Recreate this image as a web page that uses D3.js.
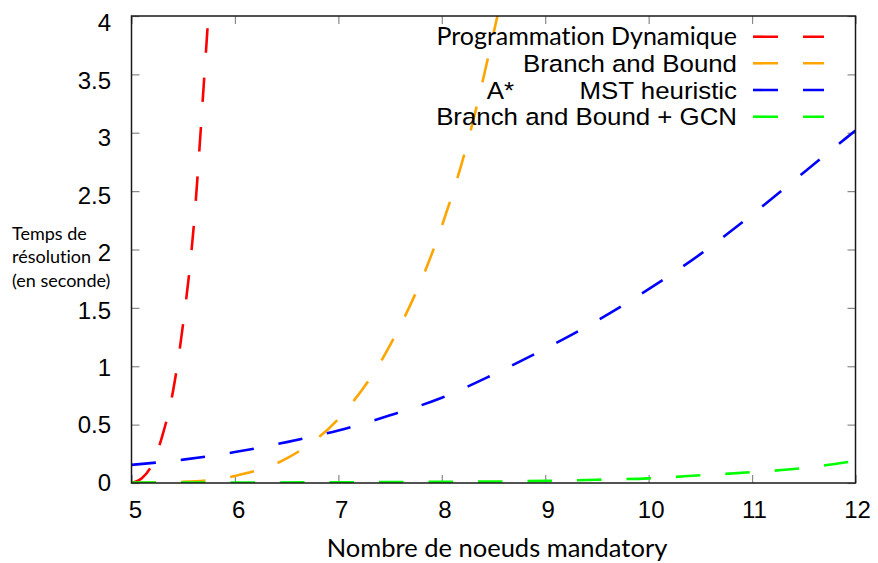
<!DOCTYPE html>
<html>
<head>
<meta charset="utf-8">
<script src="https://cdn.jsdelivr.net/npm/d3@7"></script>
<style>
body { margin: 0; background: #fff; }
.tick text { fill: #000; }
text { font-variant-ligatures: none; font-feature-settings: "liga" 0; }
</style>
</head>
<body>
<svg id="chart" width="878" height="563"></svg>
<script>
// Values
var dpX = [5, 5.1, 5.2, 5.3, 5.4, 5.5, 5.6, 5.7, 5.75];
var dpY = [0, 0.04, 0.16, 0.41, 0.78, 1.37, 2.18, 3.43, 4.1];

var bbX = [5, 5.5, 6, 6.5, 7, 7.5, 8, 8.25, 8.5, 8.6];
var bbY = [0, 0.01, 0.06, 0.21, 0.55, 1.18, 2.2, 2.92, 3.85, 4.25];

var astarX = [5, 5.5, 6, 6.5, 7, 7.5, 8, 8.5, 9, 9.5, 10, 10.5, 11, 11.5, 12];
var astarY = [0.155, 0.2, 0.265, 0.35, 0.45, 0.58, 0.73, 0.93, 1.15, 1.39, 1.66, 1.96, 2.3, 2.66, 3.02];

var gcnX = [5, 6, 7, 8, 9, 9.5, 10, 10.5, 11, 11.5, 12];
var gcnY = [0.003, 0.004, 0.006, 0.01, 0.018, 0.028, 0.04, 0.066, 0.093, 0.128, 0.19];

var seriesNames = ["Programmation Dynamique", "Branch and Bound", "A*\tMST heuristic", "Branch and Bound + GCN"];
var seriesColors = ["#ff0000", "#ffa500", "#0000ff", "#00ff00"];

var xTicks = [5, 6, 7, 8, 9, 10, 11, 12];
var yTicks = [0, 0.5, 1, 1.5, 2, 2.5, 3, 3.5, 4];

var xTitle = "Nombre de noeuds mandatory";
var yTitle = ["Temps de", "résolution", "(en seconde)"];

// Plot box
var plotLeft = 131.5, plotRight = 855.5, plotTop = 16, plotBottom = 483;

var svg = d3.select('#chart');

var x = d3.scaleLinear().domain([5, 12]).range([plotLeft, plotRight]);
var y = d3.scaleLinear().domain([0, 4]).range([plotBottom, plotTop]);

// tick labels sit a little off the ticks in the original
var xLab = d3.scaleLinear().domain([5, 12]).range([135, 857]);
var yLab = d3.scaleLinear().domain([0, 4]).range([482, 22.5]);

var series = [
    { xs: dpX, ys: dpY },
    { xs: bbX, ys: bbY },
    { xs: astarX, ys: astarY },
    { xs: gcnX, ys: gcnY }
];

// Inside ticks on all four sides
function tickStyle(g) {
    g.select('.domain').remove();
    g.selectAll('.tick line').attr('stroke', '#8a8a8a').attr('stroke-width', 1.2);
}

svg.append('g')
    .attr('transform', 'translate(0,' + plotBottom + ')')
    .call(d3.axisBottom(x).tickValues(xTicks).tickSize(-8).tickFormat(''))
    .call(tickStyle);
svg.append('g')
    .attr('transform', 'translate(0,' + plotTop + ')')
    .call(d3.axisTop(x).tickValues(xTicks).tickSize(-8).tickFormat(''))
    .call(tickStyle);
svg.append('g')
    .attr('transform', 'translate(' + plotLeft + ',0)')
    .call(d3.axisLeft(y).tickValues(yTicks).tickSize(-8).tickFormat(''))
    .call(tickStyle);
svg.append('g')
    .attr('transform', 'translate(' + plotRight + ',0)')
    .call(d3.axisRight(y).tickValues(yTicks).tickSize(-8).tickFormat(''))
    .call(tickStyle);

// Tick labels
var xLabels = svg.append('g')
    .attr('transform', 'translate(0,' + 510 + ')')
    .call(d3.axisBottom(xLab).tickValues(xTicks).tickSize(0).tickPadding(0).tickFormat(d3.format('')));
xLabels.select('.domain').remove();
xLabels.selectAll('text')
    .attr('dy', '0.35em')
    .style('font-family', '"Liberation Sans", Arial, sans-serif')
    .style('font-size', '24px');

var yLabels = svg.append('g')
    .attr('transform', 'translate(' + 111 + ',0)')
    .call(d3.axisLeft(yLab).tickValues(yTicks).tickSize(0).tickPadding(0).tickFormat(d3.format('')));
yLabels.select('.domain').remove();
yLabels.selectAll('text')
    .attr('dy', '0.35em')
    .style('font-family', '"Liberation Sans", Arial, sans-serif')
    .style('font-size', '24px');

// Curves
svg.append('clipPath')
    .attr('id', 'plotClip')
    .append('rect')
    .attr('x', plotLeft)
    .attr('y', plotTop)
    .attr('width', plotRight - plotLeft)
    .attr('height', plotBottom - plotTop);

var line = d3.line()
    .x(function(d) { return x(d[0]); })
    .y(function(d) { return y(d[1]); })
    .curve(d3.curveMonotoneX);

var curves = svg.append('g').attr('clip-path', 'url(#plotClip)');

series.forEach(function(s, i) {
    var pts = s.xs.map(function(v, j) { return [v, s.ys[j]]; });
    curves.append('path')
        .datum(pts)
        .attr('d', line)
        .attr('fill', 'none')
        .attr('stroke', seriesColors[i])
        .attr('stroke-width', 2.6)
        .attr('stroke-dasharray', '24.5,25');
});

// Frame
svg.append('rect')
    .attr('x', plotLeft)
    .attr('y', plotTop)
    .attr('width', plotRight - plotLeft)
    .attr('height', plotBottom - plotTop)
    .attr('fill', 'none')
    .attr('stroke', '#1a1a1a')
    .attr('stroke-width', 1.5);

// Legend (gnuplot text in the original is stretched a bit wide)
var legend = svg.append('g');
var rowY = [36.7, 63.3, 90, 116.7];

function legendText(px, py, str, calibri) {
    legend.append('text')
        .attr('transform', 'translate(' + px + ',' + py + ')' + (calibri ? '' : ' scale(1.1,1)'))
        .attr('text-anchor', 'end')
        .style('font-family', calibri ? 'Lato, sans-serif' : '"Liberation Sans", Arial, sans-serif')
        .style('font-size', calibri ? '25px' : '23.5px')
        .text(str);
}

seriesNames.forEach(function(name, i) {
    var parts = name.split('\t');

    legendText(737, rowY[i] + 8.5, parts[parts.length - 1], i === 0);
    if (parts.length > 1) {
        legendText(514, rowY[i] + 8.5, parts[0], false);
    }

    legend.append('line')
        .attr('x1', 753)
        .attr('x2', 824)
        .attr('y1', rowY[i])
        .attr('y2', rowY[i])
        .attr('stroke', seriesColors[i])
        .attr('stroke-width', 2.6)
        .attr('stroke-dasharray', '25,25');
});

// Axis titles
svg.append('text')
    .attr('x', 497)
    .attr('y', 557)
    .attr('text-anchor', 'middle')
    .style('font-family', 'Lato, sans-serif')
    .style('font-size', '25.5px')
    .text(xTitle);

svg.append('g')
    .selectAll('text')
    .data(yTitle)
    .enter()
    .append('text')
    .attr('x', 12)
    .attr('y', function(d, i) { return 239.5 + i * 23.5; })
    .style('font-family', 'Lato, sans-serif')
    .style('font-size', '18px')
    .text(function(d) { return d; });
</script>
</body>
</html>
